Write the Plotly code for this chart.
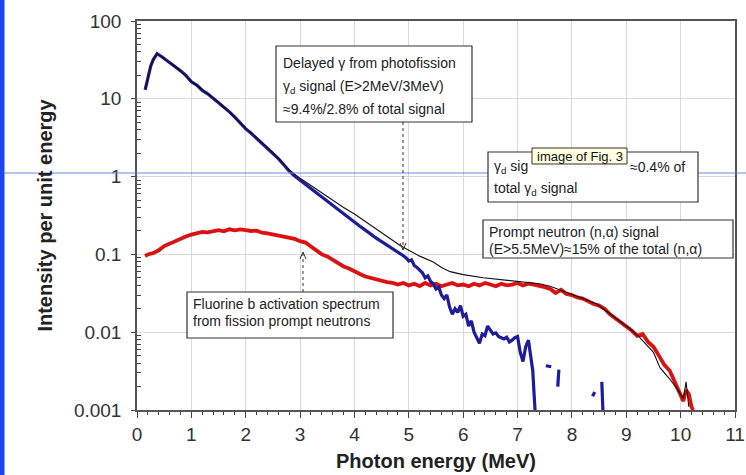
import plotly.graph_objects as go

# ---------------- data ----------------
blue_E = [0.15, 0.2, 0.25, 0.3, 0.37, 0.45, 0.5, 0.6, 0.7, 0.8, 0.9, 1.0, 1.1, 1.2, 1.3, 1.4,
          1.5, 1.6, 1.7, 1.8, 1.9, 2.0, 2.1, 2.2, 2.3, 2.4, 2.5, 2.6, 2.7, 2.8, 2.9, 3.0,
          3.1, 3.2, 3.3, 3.4, 3.5, 3.6, 3.7, 3.8, 3.9, 4.0, 4.1, 4.2, 4.3, 4.4, 4.5, 4.6,
          4.7, 4.8, 4.9, 4.95, 5.0, 5.05, 5.1, 5.15, 5.2, 5.25, 5.3, 5.35, 5.4, 5.45, 5.5,
          5.55, 5.6, 5.65, 5.7, 5.75, 5.8, 5.85, 5.9, 5.95, 6.0, 6.05, 6.1, 6.15, 6.2, 6.25,
          6.3, 6.35, 6.4, 6.45, 6.5, 6.55, 6.6, 6.65, 6.7, 6.75, 6.8, 6.85, 6.9, 6.95, 7.0,
          7.05, 7.1, 7.15, 7.2, 7.25, 7.28, 7.3, 7.33,
          None, 7.52, 7.62, None, 7.76, 7.74, None, 8.38, 8.42, None, 8.55, 8.57]
blue_I = [13, 19, 26, 32, 38, 35, 33, 29, 26, 23, 20, 16.5, 15.0, 12.8, 11.6, 10.2,
          8.9, 7.8, 6.8, 5.8, 4.9, 4.1, 3.6, 3.1, 2.7, 2.3, 2.0, 1.7, 1.42, 1.18, 1.02, 0.9,
          0.79, 0.7, 0.61, 0.54, 0.48, 0.42, 0.37, 0.33, 0.29, 0.26, 0.23, 0.205, 0.18, 0.162,
          0.146, 0.132, 0.118, 0.106, 0.096, 0.09, 0.082, 0.085, 0.072, 0.068, 0.062, 0.058,
          0.05, 0.053, 0.045, 0.042, 0.036, 0.038, 0.03, 0.027, 0.03, 0.021, 0.017, 0.02,
          0.018, 0.022, 0.016, 0.017, 0.012, 0.014, 0.01, 0.0085, 0.0072, 0.0095, 0.009,
          0.012, 0.0105, 0.0095, 0.0098, 0.0088, 0.0085, 0.0082, 0.0086, 0.0075, 0.0079,
          0.0085, 0.0088, 0.0055, 0.0042, 0.0065, 0.0079, 0.0045, 0.0032, 0.0018, 0.0008,
          None, 0.0037, 0.0036, None, 0.0033, 0.002, None, 0.0015, 0.0017, None, 0.0023, 0.001]

red_E = [0.15, 0.2, 0.3, 0.4, 0.5, 0.6, 0.7, 0.8, 0.9, 1.0, 1.1, 1.2, 1.3, 1.4, 1.5, 1.6,
         1.7, 1.8, 1.9, 2.0, 2.1, 2.2, 2.3, 2.4, 2.5, 2.6, 2.7, 2.8, 2.9, 3.0, 3.1, 3.2,
         3.3, 3.4, 3.5, 3.6, 3.7, 3.8, 3.9, 4.0, 4.1, 4.2, 4.3, 4.4, 4.5, 4.6, 4.7, 4.8,
         4.9, 5.0, 5.1, 5.2, 5.3, 5.4, 5.5, 5.6, 5.7, 5.8, 5.9, 6.0, 6.1, 6.2, 6.3, 6.4,
         6.5, 6.6, 6.7, 6.8, 6.9, 7.0, 7.1, 7.2, 7.3, 7.4, 7.5, 7.6, 7.7, 7.8, 7.9, 8.0,
         8.1, 8.2, 8.3, 8.4, 8.5, 8.6, 8.7, 8.8, 8.9, 9.0, 9.1, 9.2, 9.3, 9.4, 9.5, 9.6,
         9.7, 9.8, 9.9, 10.0, 10.05, 10.1, 10.15, 10.2, 10.23]
red_I = [0.095, 0.1, 0.104, 0.113, 0.128, 0.138, 0.15, 0.162, 0.17, 0.18, 0.186, 0.194,
         0.192, 0.2, 0.205, 0.198, 0.21, 0.204, 0.21, 0.205, 0.2, 0.202, 0.19, 0.186, 0.18,
         0.175, 0.168, 0.165, 0.158, 0.148, 0.142, 0.126, 0.112, 0.1, 0.094, 0.085, 0.079,
         0.07, 0.066, 0.06, 0.056, 0.052, 0.05, 0.047, 0.045, 0.044, 0.043, 0.041, 0.043,
         0.04, 0.042, 0.039, 0.043, 0.04, 0.042, 0.039, 0.041, 0.043, 0.04, 0.041, 0.039,
         0.042, 0.04, 0.043, 0.041, 0.039, 0.042, 0.04, 0.041, 0.043, 0.04, 0.042, 0.041,
         0.04, 0.038, 0.036, 0.032, 0.035, 0.031, 0.03, 0.028, 0.027, 0.025, 0.023, 0.022,
         0.02, 0.017, 0.015, 0.0135, 0.012, 0.0105, 0.009, 0.0095, 0.0075, 0.0065, 0.005,
         0.0038, 0.0032, 0.0022, 0.0015, 0.0013, 0.0018, 0.0016, 0.0011, 0.001]

total_E = [0.15, 0.2, 0.25, 0.3, 0.37, 0.5, 0.7, 1.0, 1.5, 2.0, 2.5, 2.8, 3.0, 3.2, 3.5,
           3.8, 4.0, 4.3, 4.6, 4.84, 5.0, 5.2, 5.45, 5.6, 5.76, 6.0, 6.37, 6.7, 7.0, 7.4,
           7.6, 7.84, 8.15, 8.46, 8.76, 9.07, 9.25, 9.5, 9.62, 9.8, 9.95, 10.05, 10.1, 10.15]
total_I = [13, 19, 26, 32, 38, 33, 26, 16.8, 9.1, 4.2, 2.05, 1.22, 0.95, 0.77, 0.55,
           0.4, 0.33, 0.24, 0.17, 0.13, 0.112, 0.095, 0.08, 0.068, 0.06, 0.055, 0.05,
           0.047, 0.045, 0.042, 0.039, 0.034, 0.028, 0.023, 0.016, 0.011, 0.0085, 0.0055,
           0.0035, 0.0025, 0.0018, 0.0014, 0.0023, 0.0011]

x_ticks = [0, 1, 2, 3, 4, 5, 6, 7, 8, 9, 10, 11]
y_ticks = [0.001, 0.01, 0.1, 1, 10, 100]
y_tick_labels = ["0.001", "0.01", "0.1", "1", "10", "100"]

# ---------------- figure ----------------
W, H = 746, 475
L, R, T, B = 137, 735, 21, 410   # plot area in pixels


def px(x):
    return (x - L) / (R - L)


def py(y):
    return (B - y) / (B - T)


FONT = "Arial, Liberation Sans, sans-serif"

fig = go.Figure()
fig.add_trace(go.Scatter(x=red_E, y=red_I, mode="lines",
                         line=dict(color="#dc1212", width=3.8), hoverinfo="skip"))
fig.add_trace(go.Scatter(x=blue_E, y=blue_I, mode="lines", connectgaps=False,
                         line=dict(color="#1c1c9c", width=3.2), hoverinfo="skip"))
fig.add_trace(go.Scatter(x=total_E, y=total_I, mode="lines",
                         line=dict(color="#111111", width=1.1), hoverinfo="skip"))

axis_common = dict(showline=True, linecolor="#555555", linewidth=1.5, mirror=True,
                   showgrid=True, gridcolor="#d9d9d9", gridwidth=1, zeroline=False,
                   automargin=False,
                   tickfont=dict(family=FONT, size=19, color="#333333"),
                   tickcolor="#444444")

minor_y = [m * d for d in [0.001, 0.01, 0.1, 1, 10] for m in range(2, 10)]

fig.update_xaxes(range=[0, 11], tickvals=x_ticks, ticks="outside", ticklen=6,
                 minor=dict(dtick=0.2, ticks="outside", ticklen=3, tickcolor="#444444",
                            showgrid=False),
                 title=dict(text="<b>Photon energy (MeV)</b>",
                            font=dict(family=FONT, size=20, color="#222222"), standoff=10),
                 **axis_common)
fig.update_yaxes(type="log", range=[-3, 2], tickvals=y_ticks, ticktext=y_tick_labels,
                 ticks="outside", ticklen=4, ticklabelstandoff=6,
                 minor=dict(tickvals=minor_y, ticks="inside", ticklen=4, tickcolor="#444444",
                            showgrid=False),
                 title=dict(text="<b>Intensity per unit energy</b>",
                            font=dict(family=FONT, size=20, color="#222222"), standoff=16),
                 **axis_common)

shapes = []
annots = []

# left blue strip and thin horizontal line (screenshot artefacts)
shapes.append(dict(type="rect", xref="paper", yref="paper", x0=px(0), x1=px(4.5),
                   y0=py(H), y1=py(0), fillcolor="#1f45f0", line=dict(width=0), layer="above"))
shapes.append(dict(type="line", xref="paper", yref="paper", x0=px(4.5), x1=px(W),
                   y0=py(173), y1=py(173), line=dict(color="#6a8ae6", width=1), layer="above"))


def rect(x0, y0, x1, y1):
    shapes.append(dict(type="rect", xref="paper", yref="paper", x0=px(x0), x1=px(x1),
                       y0=py(y1), y1=py(y0), fillcolor="white",
                       line=dict(color="#333333", width=1.2), layer="above"))


def text(t, x, y, size=14):
    annots.append(dict(xref="paper", yref="paper", x=px(x), y=py(y), text=t,
                       showarrow=False, xanchor="left", yanchor="middle",
                       font=dict(family=FONT, size=size, color="#222222")))


rect(276, 46, 472, 122)
text("Delayed γ from photofission", 281, 63)
text("γ<sub>d</sub> signal (E>2MeV/3MeV)", 281, 87)
text("≈9.4%/2.8% of total signal", 281, 109)

rect(488, 152, 698, 202)
text("γ<sub>d</sub> sig", 492, 167)
text("≈0.4% of", 628, 167)
text("total γ<sub>d</sub> signal", 492, 189)

rect(483, 220, 733, 258)
text("Prompt neutron (n,α) signal", 487, 232)
text("(E>5.5MeV)≈15% of the total (n,α)", 487, 249)

rect(187, 292, 393, 338)
text("Fluorine b activation spectrum", 191, 304)
text("from fission prompt neutrons", 191, 321)

# tooltip
shapes.append(dict(type="rect", xref="paper", yref="paper", x0=px(532), x1=px(627),
                   y0=py(164), y1=py(148), fillcolor="#ffffe1",
                   line=dict(color="#333333", width=1), layer="above"))
annots.append(dict(xref="paper", yref="paper", x=px(579.5), y=py(156), text="image of Fig. 3",
                   showarrow=False, xanchor="center", yanchor="middle",
                   font=dict(family=FONT, size=13, color="#111111")))


def arrow_head(x, y, direction):
    s = 1 if direction == "down" else -1
    path = "M {a},{b} L {c},{d} L {e},{f}".format(
        a=px(x - 3), b=py(y - 7 * s), c=px(x), d=py(y), e=px(x + 3), f=py(y - 7 * s))
    shapes.append(dict(type="path", xref="paper", yref="paper", path=path,
                       line=dict(color="#333333", width=1), layer="above"))


# dotted pointer lines with arrow heads
shapes.append(dict(type="line", xref="paper", yref="paper", x0=px(403), x1=px(403),
                   y0=py(122), y1=py(250), line=dict(color="#333333", width=1, dash="dot"),
                   layer="above"))
arrow_head(403, 250, "down")
shapes.append(dict(type="line", xref="paper", yref="paper", x0=px(303), x1=px(303),
                   y0=py(292), y1=py(252), line=dict(color="#333333", width=1, dash="dot"),
                   layer="above"))
arrow_head(303, 252, "up")

fig.update_layout(width=W, height=H, autosize=False,
                  margin=dict(l=L, r=W - R, t=T, b=H - B, pad=0),
                  paper_bgcolor="white", plot_bgcolor="white", showlegend=False,
                  shapes=shapes, annotations=annots)

fig.write_html("out.html")
